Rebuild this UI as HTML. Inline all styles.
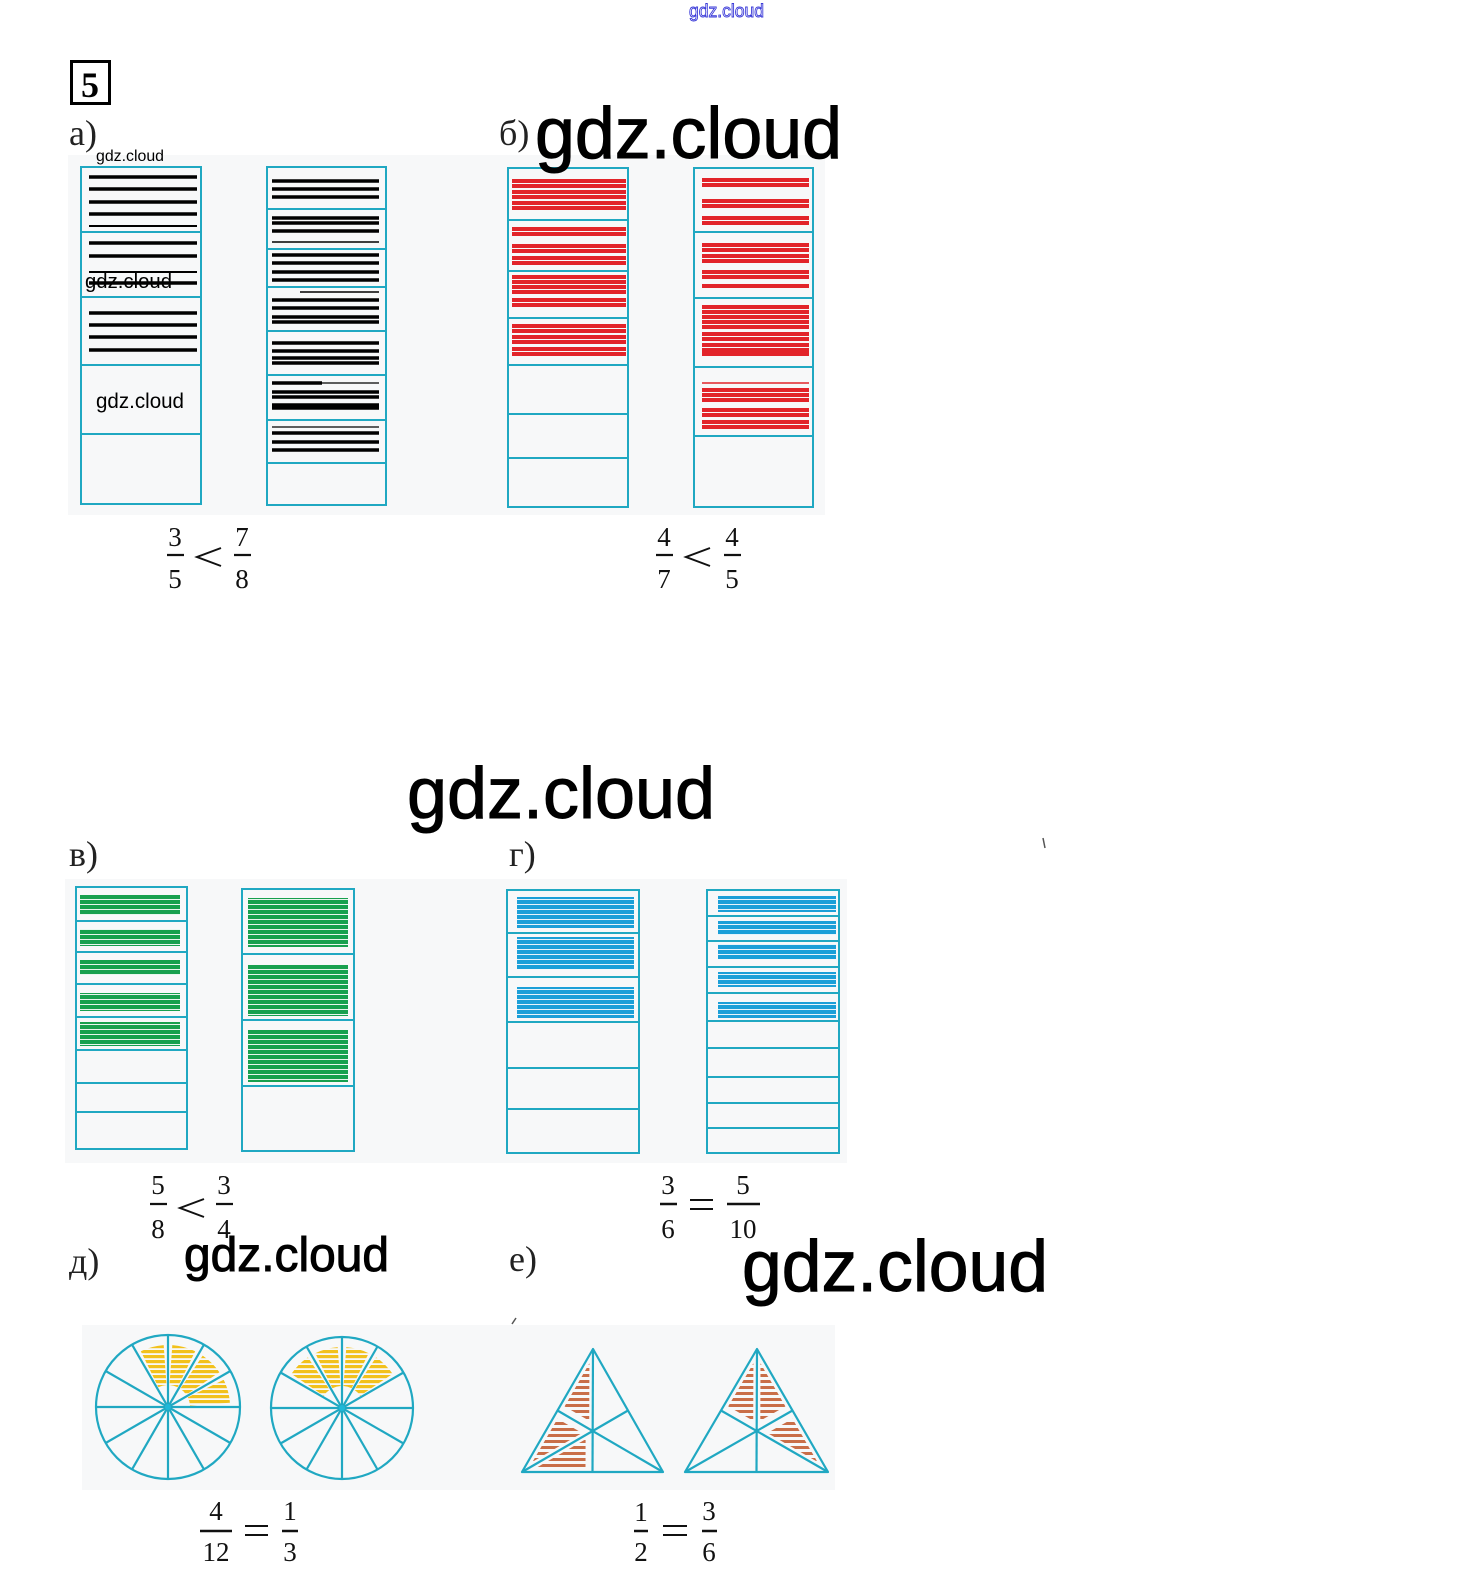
<!DOCTYPE html>
<html><head><meta charset="utf-8"><style>
html,body{margin:0;padding:0;background:#fff;}
svg{display:block;}
.lbl{font-family:"Liberation Serif",serif;font-size:36px;fill:#222;}
.num{font-family:"Liberation Serif",serif;font-size:27px;fill:#111;text-anchor:middle;}
.wm{font-family:"Liberation Sans",sans-serif;fill:#000;}
.wmb{font-family:"Liberation Sans",sans-serif;fill:#000;stroke:#000;stroke-width:1.0;}
</style></head><body>
<svg width="1460" height="1579" viewBox="0 0 1460 1579" xmlns="http://www.w3.org/2000/svg">
<defs>
<pattern id="gp" width="10" height="5" patternUnits="userSpaceOnUse"><rect width="10" height="4" fill="#17a04e"/><rect y="4" width="10" height="1" fill="#e8f6ee"/></pattern>
<pattern id="bp" width="10" height="5" patternUnits="userSpaceOnUse"><rect width="10" height="4" fill="#1b9fd8"/><rect y="4" width="10" height="1" fill="#e6f4fb"/></pattern>
<pattern id="yp" width="10" height="5" patternUnits="userSpaceOnUse"><rect width="10" height="3.2" fill="#f2c11c"/></pattern>
<pattern id="rp" width="10" height="6" patternUnits="userSpaceOnUse"><rect width="10" height="3" fill="#c96e48"/></pattern>
</defs>
<rect width="1460" height="1579" fill="#fff"/>

<!-- top watermark -->
<text x="689" y="17" font-family="Liberation Sans,sans-serif" font-size="18" fill="#fff" stroke="#3a3ad8" stroke-width="0.9" textLength="75" lengthAdjust="spacingAndGlyphs">gdz.cloud</text>

<!-- task number -->
<rect x="71.5" y="61.5" width="38" height="42" fill="none" stroke="#000" stroke-width="3"/>
<text x="90" y="97" text-anchor="middle" font-family="Liberation Serif,serif" font-weight="bold" font-size="36" fill="#000">5</text>

<!-- panels -->
<rect x="68" y="155" width="757" height="360" fill="#f7f8f9"/>
<rect x="65" y="879" width="782" height="284" fill="#f7f8f9"/>
<rect x="82" y="1325" width="753" height="165" fill="#f7f8f9"/>

<!-- labels -->
<text class="lbl" x="69" y="145">а)</text>
<text class="lbl" x="499" y="145">б)</text>
<text class="lbl" x="69" y="866">в)</text>
<text class="lbl" x="509" y="866">г)</text>
<text class="lbl" x="69" y="1273">д)</text>
<text class="lbl" x="509" y="1271">е)</text>
<line x1="1043" y1="838" x2="1045" y2="848" stroke="#555" stroke-width="1.5"/>
<line x1="512" y1="1324" x2="516" y2="1318" stroke="#555" stroke-width="1.5"/>

<!-- ===== a) ===== -->
<g stroke="#000" stroke-width="3.5">
<line x1="89" y1="177" x2="197" y2="177"/><line x1="89" y1="189" x2="197" y2="189"/><line x1="89" y1="202" x2="197" y2="202"/><line x1="89" y1="214" x2="197" y2="214"/><line x1="89" y1="226" x2="197" y2="226" stroke-width="2"/>
<line x1="89" y1="243" x2="197" y2="243"/><line x1="89" y1="256" x2="197" y2="256"/><line x1="89" y1="272" x2="197" y2="272" stroke-width="2"/>
<line x1="89" y1="313" x2="197" y2="313"/><line x1="89" y1="325" x2="197" y2="325"/><line x1="89" y1="337" x2="197" y2="337"/><line x1="89" y1="350" x2="197" y2="350"/>
</g>
<text class="wm" x="96" y="161" font-size="16" textLength="68" lengthAdjust="spacingAndGlyphs">gdz.cloud</text>
<text class="wm" x="85" y="288" font-size="20" fill="#222" textLength="87" lengthAdjust="spacingAndGlyphs">gdz.cloud</text>
<line x1="89" y1="283" x2="197" y2="283" stroke="#000" stroke-width="3.5"/>
<text class="wm" x="96" y="408" font-size="21" textLength="88" lengthAdjust="spacingAndGlyphs">gdz.cloud</text>
<g fill="none" stroke="#20a8c2" stroke-width="2">
<rect x="81" y="167" width="120" height="337"/>
<line x1="81" y1="232" x2="201" y2="232"/><line x1="81" y1="297" x2="201" y2="297"/><line x1="81" y1="365" x2="201" y2="365"/><line x1="81" y1="434" x2="201" y2="434"/>
</g>

<g stroke="#000" stroke-width="3.5">
<line x1="272" y1="181" x2="379" y2="181"/><line x1="272" y1="189" x2="379" y2="189"/><line x1="272" y1="197" x2="379" y2="197"/>
<line x1="272" y1="218" x2="379" y2="218"/><line x1="272" y1="223" x2="379" y2="223"/><line x1="272" y1="231" x2="379" y2="231"/><line x1="272" y1="242" x2="379" y2="242" stroke-width="1.5"/>
<line x1="272" y1="255" x2="379" y2="255"/><line x1="272" y1="263" x2="379" y2="263"/><line x1="272" y1="272" x2="379" y2="272"/><line x1="272" y1="280" x2="379" y2="280"/>
<line x1="300" y1="292" x2="379" y2="292" stroke-width="1.5"/><line x1="272" y1="300" x2="379" y2="300"/><line x1="272" y1="308" x2="379" y2="308"/><line x1="272" y1="317" x2="379" y2="317"/><line x1="272" y1="322" x2="379" y2="322"/>
<line x1="272" y1="343" x2="379" y2="343"/><line x1="272" y1="351" x2="379" y2="351"/><line x1="272" y1="358" x2="379" y2="358"/><line x1="272" y1="363" x2="379" y2="363"/>
<line x1="272" y1="383" x2="322" y2="383"/><line x1="322" y1="383" x2="379" y2="383" stroke-width="1.2"/><line x1="272" y1="392" x2="379" y2="392"/><line x1="272" y1="397" x2="379" y2="397"/><line x1="272" y1="405" x2="379" y2="405"/><line x1="272" y1="408" x2="379" y2="408"/>
<line x1="272" y1="427" x2="379" y2="427" stroke-width="1.2"/><line x1="272" y1="433" x2="379" y2="433"/><line x1="272" y1="442" x2="379" y2="442"/><line x1="272" y1="450" x2="379" y2="450"/>
</g>
<g fill="none" stroke="#20a8c2" stroke-width="2">
<rect x="267" y="167" width="119" height="338"/>
<line x1="267" y1="209" x2="386" y2="209"/><line x1="267" y1="249" x2="386" y2="249"/><line x1="267" y1="287" x2="386" y2="287"/><line x1="267" y1="331" x2="386" y2="331"/><line x1="267" y1="375" x2="386" y2="375"/><line x1="267" y1="420" x2="386" y2="420"/><line x1="267" y1="463" x2="386" y2="463"/>
</g>

<!-- ===== b) ===== -->
<g stroke="#e2242a" stroke-width="4">
<line x1="512" y1="181" x2="626" y2="181"/><line x1="512" y1="186" x2="626" y2="186"/><line x1="512" y1="192" x2="626" y2="192"/><line x1="512" y1="197" x2="626" y2="197"/><line x1="512" y1="203" x2="626" y2="203"/><line x1="512" y1="208" x2="626" y2="208"/>
<line x1="512" y1="229" x2="626" y2="229"/><line x1="512" y1="234" x2="626" y2="234"/><line x1="512" y1="246" x2="626" y2="246"/><line x1="512" y1="251" x2="626" y2="251"/><line x1="512" y1="258" x2="626" y2="258"/><line x1="512" y1="263" x2="626" y2="263"/>
<line x1="512" y1="277" x2="626" y2="277"/><line x1="512" y1="282" x2="626" y2="282"/><line x1="512" y1="287" x2="626" y2="287"/><line x1="512" y1="292" x2="626" y2="292"/><line x1="512" y1="300" x2="626" y2="300"/><line x1="512" y1="305" x2="626" y2="305"/>
<line x1="512" y1="326" x2="626" y2="326"/><line x1="512" y1="331" x2="626" y2="331"/><line x1="512" y1="337" x2="626" y2="337"/><line x1="512" y1="342" x2="626" y2="342"/><line x1="512" y1="349" x2="626" y2="349"/><line x1="512" y1="354" x2="626" y2="354"/>
</g>
<g fill="none" stroke="#20a8c2" stroke-width="2">
<rect x="508" y="168" width="120" height="339"/>
<line x1="508" y1="220" x2="628" y2="220"/><line x1="508" y1="271" x2="628" y2="271"/><line x1="508" y1="318" x2="628" y2="318"/><line x1="508" y1="365" x2="628" y2="365"/><line x1="508" y1="414" x2="628" y2="414"/><line x1="508" y1="458" x2="628" y2="458"/>
</g>

<g stroke="#e2242a" stroke-width="4">
<line x1="702" y1="180" x2="809" y2="180"/><line x1="702" y1="185" x2="809" y2="185"/><line x1="702" y1="201" x2="809" y2="201"/><line x1="702" y1="206" x2="809" y2="206"/><line x1="702" y1="218" x2="809" y2="218"/><line x1="702" y1="223" x2="809" y2="223"/>
<line x1="702" y1="245" x2="809" y2="245"/><line x1="702" y1="250" x2="809" y2="250"/><line x1="702" y1="256" x2="809" y2="256"/><line x1="702" y1="261" x2="809" y2="261"/><line x1="702" y1="272" x2="809" y2="272"/><line x1="702" y1="277" x2="809" y2="277"/><line x1="702" y1="286" x2="809" y2="286"/>
<line x1="702" y1="307" x2="809" y2="307"/><line x1="702" y1="312" x2="809" y2="312"/><line x1="702" y1="317" x2="809" y2="317"/><line x1="702" y1="322" x2="809" y2="322"/><line x1="702" y1="327" x2="809" y2="327"/><line x1="702" y1="334" x2="809" y2="334"/><line x1="702" y1="339" x2="809" y2="339"/><line x1="702" y1="345" x2="809" y2="345"/><line x1="702" y1="350" x2="809" y2="350"/><line x1="702" y1="354" x2="809" y2="354"/>
<line x1="702" y1="383" x2="809" y2="383" stroke-width="1.5"/><line x1="702" y1="390" x2="809" y2="390"/><line x1="702" y1="395" x2="809" y2="395"/><line x1="702" y1="400" x2="809" y2="400"/><line x1="702" y1="410" x2="809" y2="410"/><line x1="702" y1="415" x2="809" y2="415"/><line x1="702" y1="422" x2="809" y2="422"/><line x1="702" y1="427" x2="809" y2="427"/>
</g>
<g fill="none" stroke="#20a8c2" stroke-width="2">
<rect x="694" y="168" width="119" height="339"/>
<line x1="694" y1="232" x2="813" y2="232"/><line x1="694" y1="298" x2="813" y2="298"/><line x1="694" y1="367" x2="813" y2="367"/><line x1="694" y1="436" x2="813" y2="436"/>
</g>

<text class="wmb" x="535" y="158" font-size="72" textLength="307" lengthAdjust="spacingAndGlyphs">gdz.cloud</text>

<!-- fractions a, b -->
<text class="num" x="175" y="546">3</text><line x1="167" y1="555" x2="184" y2="555" stroke="#111" stroke-width="2.2"/><text class="num" x="175" y="588">5</text>
<polyline points="221,548 197,557 221,566" fill="none" stroke="#111" stroke-width="2"/>
<text class="num" x="242" y="546">7</text><line x1="234" y1="555" x2="251" y2="555" stroke="#111" stroke-width="2.2"/><text class="num" x="242" y="588">8</text>

<text class="num" x="664" y="546">4</text><line x1="656" y1="555" x2="673" y2="555" stroke="#111" stroke-width="2.2"/><text class="num" x="664" y="588">7</text>
<polyline points="710,548 686,557 710,566" fill="none" stroke="#111" stroke-width="2"/>
<text class="num" x="732" y="546">4</text><line x1="724" y1="555" x2="741" y2="555" stroke="#111" stroke-width="2.2"/><text class="num" x="732" y="588">5</text>

<!-- middle watermark -->
<text class="wmb" x="407" y="818" font-size="72" textLength="308" lengthAdjust="spacingAndGlyphs">gdz.cloud</text>

<!-- ===== в) ===== -->
<g fill="url(#gp)">
<rect x="80" y="895" width="100" height="20"/><rect x="80" y="929" width="100" height="17"/><rect x="80" y="960" width="100" height="15"/><rect x="80" y="993" width="100" height="18"/><rect x="80" y="1022" width="100" height="24"/>
<rect x="248" y="898" width="100" height="49"/><rect x="248" y="965" width="100" height="51"/><rect x="248" y="1030" width="100" height="52"/>
</g>
<g fill="none" stroke="#20a8c2" stroke-width="2">
<rect x="76" y="887" width="111" height="262"/>
<line x1="76" y1="921" x2="187" y2="921"/><line x1="76" y1="952" x2="187" y2="952"/><line x1="76" y1="984" x2="187" y2="984"/><line x1="76" y1="1017" x2="187" y2="1017"/><line x1="76" y1="1050" x2="187" y2="1050"/><line x1="76" y1="1083" x2="187" y2="1083"/><line x1="76" y1="1112" x2="187" y2="1112"/>
<rect x="242" y="889" width="112" height="262"/>
<line x1="242" y1="954" x2="354" y2="954"/><line x1="242" y1="1020" x2="354" y2="1020"/><line x1="242" y1="1086" x2="354" y2="1086"/>
</g>

<!-- ===== г) ===== -->
<g fill="url(#bp)">
<rect x="517" y="897" width="117" height="31"/><rect x="517" y="937" width="117" height="32"/><rect x="517" y="987" width="117" height="31"/>
<rect x="718" y="896" width="118" height="16"/><rect x="718" y="921" width="118" height="14"/><rect x="718" y="944" width="118" height="15"/><rect x="718" y="972" width="118" height="15"/><rect x="718" y="1002" width="118" height="16"/>
</g>
<g fill="none" stroke="#20a8c2" stroke-width="2">
<rect x="507" y="890" width="132" height="263"/>
<line x1="507" y1="933" x2="639" y2="933"/><line x1="507" y1="977" x2="639" y2="977"/><line x1="507" y1="1022" x2="639" y2="1022"/><line x1="507" y1="1068" x2="639" y2="1068"/><line x1="507" y1="1109" x2="639" y2="1109"/>
<rect x="707" y="890" width="132" height="263"/>
<line x1="707" y1="916" x2="839" y2="916"/><line x1="707" y1="941" x2="839" y2="941"/><line x1="707" y1="967" x2="839" y2="967"/><line x1="707" y1="993" x2="839" y2="993"/><line x1="707" y1="1021" x2="839" y2="1021"/><line x1="707" y1="1048" x2="839" y2="1048"/><line x1="707" y1="1077" x2="839" y2="1077"/><line x1="707" y1="1103" x2="839" y2="1103"/><line x1="707" y1="1128" x2="839" y2="1128"/>
</g>

<!-- fractions в, г -->
<text class="num" x="158" y="1194">5</text><line x1="150" y1="1204" x2="167" y2="1204" stroke="#111" stroke-width="2.2"/><text class="num" x="158" y="1238">8</text>
<polyline points="204,1199 180,1208 204,1217" fill="none" stroke="#111" stroke-width="2"/>
<text class="num" x="224" y="1194">3</text><line x1="216" y1="1204" x2="233" y2="1204" stroke="#111" stroke-width="2.2"/><text class="num" x="224" y="1238">4</text>

<text class="num" x="668" y="1194">3</text><line x1="660" y1="1204" x2="677" y2="1204" stroke="#111" stroke-width="2.5"/><text class="num" x="668" y="1238">6</text>
<line x1="690" y1="1200" x2="713" y2="1200" stroke="#111" stroke-width="2"/><line x1="690" y1="1209" x2="713" y2="1209" stroke="#111" stroke-width="2"/>
<text class="num" x="743" y="1194">5</text><line x1="727" y1="1204" x2="760" y2="1204" stroke="#111" stroke-width="2.5"/><text class="num" x="743" y="1238">10</text>

<!-- watermarks д, е -->
<text class="wmb" x="184" y="1271" font-size="48" stroke-width="0.7" textLength="205" lengthAdjust="spacingAndGlyphs">gdz.cloud</text>
<text class="wmb" x="742" y="1291" font-size="72" textLength="306" lengthAdjust="spacingAndGlyphs">gdz.cloud</text>

<!-- ===== д) circles ===== -->
<g fill="url(#yp)">
<path d="M140.8,1351.3 A62,62 0 0 1 163.7,1345.1 L166.5,1385.0 A22,22 0 0 0 158.4,1387.2 Z"/>
<path d="M172.3,1345.1 A62,62 0 0 1 195.2,1351.3 L177.6,1387.2 A22,22 0 0 0 169.5,1385.0 Z"/>
<path d="M202.7,1355.6 A62,62 0 0 1 219.4,1372.3 L186.2,1394.7 A22,22 0 0 0 180.3,1388.8 Z"/>
<path d="M223.7,1379.8 A62,62 0 0 1 229.9,1402.7 L190.0,1405.5 A22,22 0 0 0 187.8,1397.4 Z"/>
<path d="M291.4,1373.9 A61,61 0 0 1 307.9,1357.4 L329.7,1389.8 A22,22 0 0 0 323.8,1395.7 Z"/>
<path d="M315.3,1353.2 A61,61 0 0 1 337.7,1347.1 L340.5,1386.0 A22,22 0 0 0 332.4,1388.2 Z"/>
<path d="M346.3,1347.1 A61,61 0 0 1 368.7,1353.2 L351.6,1388.2 A22,22 0 0 0 343.5,1386.0 Z"/>
<path d="M376.1,1357.4 A61,61 0 0 1 392.6,1373.9 L360.2,1395.7 A22,22 0 0 0 354.3,1389.8 Z"/>
</g>
<g fill="none" stroke="#20a8c2" stroke-width="2.2">
<circle cx="168" cy="1407" r="72"/>
<line x1="168" y1="1335" x2="168" y2="1479"/><line x1="96" y1="1407" x2="240" y2="1407"/>
<line x1="204" y1="1344.6" x2="132" y2="1469.4"/><line x1="230.35" y1="1371" x2="105.65" y2="1443"/>
<line x1="230.35" y1="1443" x2="105.65" y2="1371"/><line x1="204" y1="1469.4" x2="132" y2="1344.6"/>
<circle cx="342" cy="1408" r="71"/>
<line x1="342" y1="1337" x2="342" y2="1479"/><line x1="271" y1="1408" x2="413" y2="1408"/>
<line x1="377.5" y1="1346.5" x2="306.5" y2="1469.5"/><line x1="403.5" y1="1372.5" x2="280.5" y2="1443.5"/>
<line x1="403.5" y1="1443.5" x2="280.5" y2="1372.5"/><line x1="377.5" y1="1469.5" x2="306.5" y2="1346.5"/>
</g>
<circle cx="168" cy="1407" r="3" fill="#20b8d8"/><circle cx="342" cy="1408" r="3" fill="#20b8d8"/>

<!-- ===== е) triangles ===== -->
<g fill="url(#rp)">
<polygon points="589.4,1363.3 564.6,1406.4 589.2,1420.7"/>
<polygon points="532.6,1461.7 557.5,1418.7 582.1,1433.0"/>
<polygon points="536.1,1467.9 585.5,1467.9 585.6,1439.2"/>
<polygon points="753.4,1363.3 728.2,1406.4 753.2,1420.7"/>
<polygon points="760.5,1363.3 785.4,1406.4 760.3,1420.7"/>
<polygon points="817.3,1461.7 792.5,1418.7 767.4,1433.0"/>
</g>
<g fill="none" stroke="#20a8c2" stroke-width="2.2" stroke-linejoin="round">
<polygon points="593,1349 522,1472 663,1472"/>
<line x1="593" y1="1349" x2="592.5" y2="1472"/><line x1="522" y1="1472" x2="628" y2="1410.5"/><line x1="663" y1="1472" x2="557.5" y2="1410.5"/>
<polygon points="757,1349 685,1472 828,1472"/>
<line x1="757" y1="1349" x2="756.5" y2="1472"/><line x1="685" y1="1472" x2="792.5" y2="1410.5"/><line x1="828" y1="1472" x2="721" y2="1410.5"/>
</g>

<!-- fractions д, е -->
<text class="num" x="216" y="1520">4</text><line x1="200" y1="1531" x2="232" y2="1531" stroke="#111" stroke-width="2.5"/><text class="num" x="216" y="1561">12</text>
<line x1="245" y1="1526" x2="268" y2="1526" stroke="#111" stroke-width="2"/><line x1="245" y1="1535" x2="268" y2="1535" stroke="#111" stroke-width="2"/>
<text class="num" x="290" y="1520">1</text><line x1="282" y1="1531" x2="298" y2="1531" stroke="#111" stroke-width="2.5"/><text class="num" x="290" y="1561">3</text>

<text class="num" x="641" y="1521">1</text><line x1="634" y1="1531" x2="648" y2="1531" stroke="#111" stroke-width="2.5"/><text class="num" x="641" y="1561">2</text>
<line x1="663" y1="1526" x2="687" y2="1526" stroke="#111" stroke-width="2"/><line x1="663" y1="1535" x2="687" y2="1535" stroke="#111" stroke-width="2"/>
<text class="num" x="709" y="1520">3</text><line x1="702" y1="1531" x2="717" y2="1531" stroke="#111" stroke-width="2.5"/><text class="num" x="709" y="1561">6</text>
</svg>
</body></html>
